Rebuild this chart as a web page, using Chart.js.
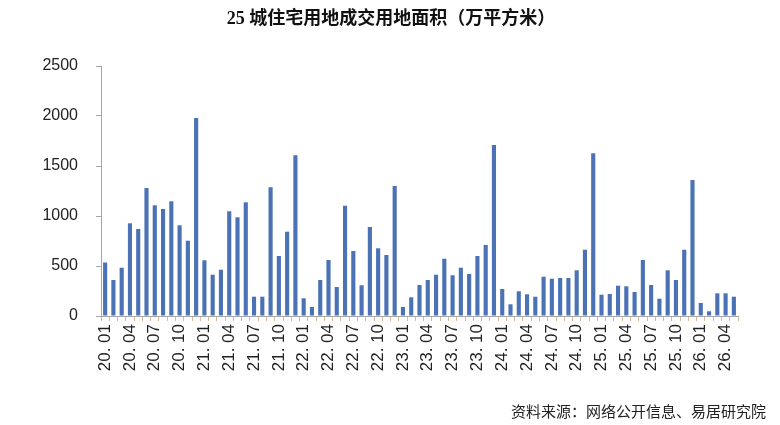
<!DOCTYPE html>
<html><head><meta charset="utf-8">
<script src="https://cdn.jsdelivr.net/npm/chart.js@4.4.0/dist/chart.umd.min.js"></script>
<style>html,body{margin:0;padding:0;background:#fff;}#wrap{width:780px;height:425px;position:relative;}</style>
</head><body><div id="wrap"><canvas id="c" width="780" height="425"></canvas></div>
<script>
const titleText = '25 城住宅用地成交用地面积（万平方米）';
const sourceText = '资料来源：网络公开信息、易居研究院';
const years = ['20','21','22','23','24','25','26'];
const months = ['01','02','03','04','05','06','07','08','09','10','11','12'];
const categories = [];
for (const y of years) for (const m of months) { if (categories.length < 77) categories.push(y + '. ' + m); }
const values = [
  535, 360, 483, 927, 870, 1280, 1107, 1070, 1147, 907, 753, 1980,
  557, 413, 463, 1047, 987, 1137, 193, 193, 1287, 600, 843, 1607,
  177, 90, 360, 560, 290, 1103, 650, 307, 890, 677, 610, 1300,
  90, 187, 310, 360, 413, 573, 407, 483, 420, 600, 710, 1710,
  270, 117, 247, 217, 193, 393, 373, 380, 380, 457, 663, 1627,
  213, 220, 303, 297, 240, 560, 310, 173, 457, 360, 663, 1360,
  130, 47, 227, 227, 193
];
const yTicks = [0, 500, 1000, 1500, 2000, 2500];

const textPlugin = {
  id: 'texts',
  afterDraw(chart) {
    const ctx = chart.ctx;
    ctx.save();
    ctx.fillStyle = '#111';
    ctx.font = 'bold 18px "Liberation Serif", "Noto Sans CJK SC", serif';
    ctx.textAlign = 'center';
    ctx.textBaseline = 'middle';
    ctx.fillText(titleText, 391, 19);
    ctx.font = '15px "Noto Sans CJK SC", sans-serif';
    ctx.textAlign = 'right';
    ctx.fillStyle = '#222';
    ctx.fillText(sourceText, 766, 411);
    ctx.restore();
  }
};

new Chart(document.getElementById('c'), {
  type: 'bar',
  data: {
    labels: categories,
    datasets: [{
      data: values,
      backgroundColor: '#4a72b5',
      borderWidth: 0,
      barPercentage: 0.5,
      categoryPercentage: 1.0
    }]
  },
  options: {
    responsive: false,
    animation: false,
    devicePixelRatio: 1,
    layout: { padding: { top: 66, right: 42, bottom: 0, left: 0 } },
    plugins: { legend: { display: false }, title: { display: false }, tooltip: { enabled: false } },
    scales: {
      x: {
        offset: true,
        grid: { display: true, offset: true, drawOnChartArea: false, drawTicks: true, tickLength: 5, color: '#d8b890' },
        border: { display: true, color: '#a6a6a6', width: 1 },
        ticks: {
          autoSkip: false, maxRotation: 90, minRotation: 90, padding: 3,
          color: '#222', font: { size: 17, family: '"Liberation Sans", Arial, sans-serif' },
          callback: function(v, i) { return (i % 3 === 0) ? categories[i] : ''; }
        },
        afterFit(scale) { scale.height = 109; }
      },
      y: {
        min: 0, max: 2500,
        afterBuildTicks(scale) { scale.ticks = yTicks.map(v => ({ value: v })); },
        grid: { display: true, drawOnChartArea: false, drawTicks: true, tickLength: 5, color: '#a6a6a6' },
        border: { display: true, color: '#a6a6a6', width: 1 },
        ticks: { color: '#222', padding: 18, font: { size: 16, family: '"Liberation Sans", Arial, sans-serif' },
          callback: function(v) { return String(v); } },
        afterFit(scale) { scale.width = 101; }
      }
    }
  },
  plugins: [textPlugin]
});
</script>
</body></html>
